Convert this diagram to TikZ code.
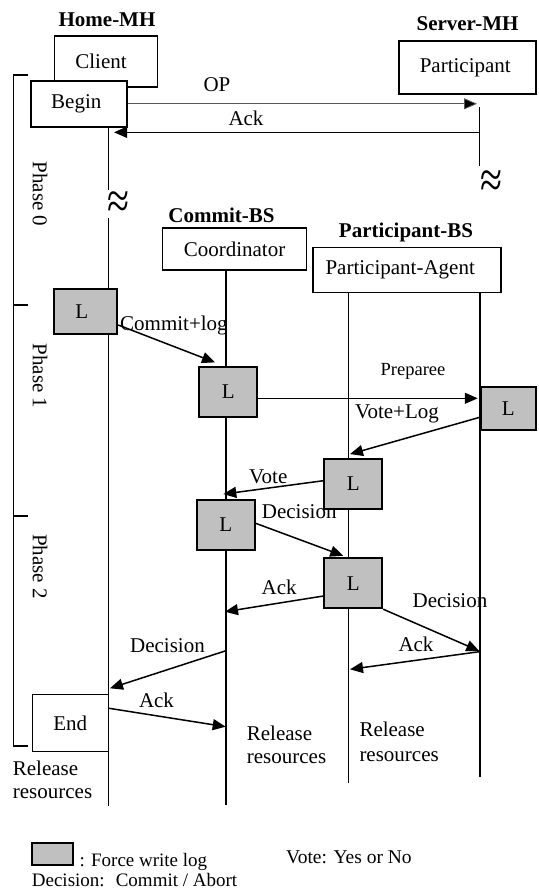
\documentclass[tikz,border=0pt]{standalone}
\usepackage{fontspec}
\setmainfont{Liberation Serif}
\usetikzlibrary{arrows.meta,backgrounds}
\definecolor{logfill}{RGB}{192,192,192}
\begin{document}
\begin{tikzpicture}[x=1pt,y=-1pt,
  every node/.style={font=\fontsize{21}{23}\selectfont, inner sep=0pt},
  title/.style={font=\fontsize{21}{23}\selectfont\bfseries, anchor=base},
  actor/.style={draw, line width=1.6pt, fill=white},
  logbox/.style={draw, line width=1.8pt, fill=logfill, minimum width=58pt, minimum height=50pt},
  life/.style={line width=1.4pt},
  msg/.style={line width=1.5pt, -{Triangle[length=13pt,width=11pt]}},
  opmsg/.style={line width=0.8pt, draw=black!65, -{Triangle[length=13pt,width=11pt,fill=black]}},
  lbl/.style={anchor=base},
  lblw/.style={anchor=base west},
  keytext/.style={anchor=base west, font=\fontsize{19}{21}\selectfont},
  phase/.style={rotate=-90},
  gap/.style={font=\fontsize{40}{40}\selectfont},
  bracket/.style={line width=1.4pt}]
\useasboundingbox (0,0) rectangle (538,891);

% ---- column headings
\node[title] (homeT) at (107,27) {Home-MH};
\node[title] (srvT) at (467.5,30.5) {Server-MH};
\node[title] (cbsT) at (221.5,222) {Commit-BS};
\node[title] (pbsT) at (406,237.5) {Participant-BS};

% ---- process boxes (trailing space nudges the caption left of centre)
\node[actor, minimum width=103pt, minimum height=51pt] (client) at (106,61.3) {Client\hspace*{10pt}};
\node[actor, minimum width=96pt, minimum height=46pt] (begin) at (78.8,103.8) {Begin\hspace*{5pt}};
\node[actor, minimum width=137pt, minimum height=53pt] (part) at (467.3,67.3) {Participant\hspace*{4pt}};
\node[actor, minimum width=144pt, minimum height=42pt] (coord) at (234.5,249.2) {Coordinator};
\node[actor, minimum width=188pt, minimum height=45pt] (pagent) at (406.7,270) {Participant-Agent\hspace*{13pt}};
\node[actor, minimum width=76pt, minimum height=57pt] (end) at (70.3,723) {End};

% ---- forced log writes
\node[logbox, minimum width=63pt, minimum height=44.7pt] (L1) at (85.8,311.7) {L\hspace*{8pt}};
\node[logbox] (L2) at (228.3,391.7) {L};
\node[logbox] (L3) at (225.8,525) {L};
\node[logbox, minimum width=55.3pt, minimum height=43.3pt] (L4) at (508.3,408.3) {L};
\node[logbox] (L5) at (353.3,484) {L};
\node[logbox] (L6) at (353.3,583.3) {L};

% ---- lifeline ends and gaps
\coordinate (h2) at (108.3,190);
\coordinate (h3) at (108.3,218);
\coordinate (h4) at (108.3,806);
\coordinate (s1) at (479.3,107);
\coordinate (s2) at (479.3,166);
\coordinate (c1) at (226,805);
\coordinate (pl) at (348.3,783.3);
\coordinate (pr) at (480,777.3);
\node[gap] (gapH) at (118,205) {\scalebox{1}[1.3]{≈}};
\node[gap] (gapS) at (491,184) {\scalebox{1}[1.3]{≈}};

\begin{pgfonlayer}{background}
  \draw[life] (begin.south -| h2) -- (h2);
  \draw[life] (h3) -- (h4);
  \draw[life] (s1) -- (s2);
  \draw[life] (coord.south -| c1) -- (c1);
  \draw[life] (pagent.south -| pl) -- (pl);
  \draw[life] (pagent.south -| pr) -- (pr);
\end{pgfonlayer}

% ---- phase bracket
\coordinate (b0) at (13.3,75);
\coordinate (b1) at (13.3,305);
\coordinate (b2) at (13.3,516);
\coordinate (b3) at (13.3,746);
\draw[bracket] ([xshift=15pt]b0) -- (b0) -- (b3) -- ([xshift=15pt]b3);
\draw[bracket] (b1) -- ([xshift=15pt]b1);
\draw[bracket] (b2) -- ([xshift=15pt]b2);
\node[phase] (ph0) at (40,194) {Phase 0};
\node[phase] (ph1) at (40,376) {Phase 1};
\node[phase] (ph2) at (40,566.5) {Phase 2};

% ---- message endpoints on lifelines
\coordinate (opEnd) at (477,103.8);
\coordinate (ack1s) at (479.3,132.3);
\coordinate (ack1e) at (114,132.3);
\coordinate (ack2e) at (225,611.7);
\coordinate (dec2e) at (479.3,651);
\coordinate (ack3s) at (479.3,651.7);
\coordinate (ack3e) at (350,669.3);
\coordinate (dec3s) at (226,650.7);
\coordinate (dec3e) at (110,688.3);
\coordinate (ack4e) at (225.7,726.7);

% ---- messages
\draw[opmsg] (begin.east) -- (opEnd);
\draw[msg] (ack1s) -- (ack1e);
\draw[msg] ([yshift=-13.3pt]L1.east) -- ([xshift=-13.3pt,yshift=3.4pt]L2.north);
\draw[msg] ([yshift=-6.6pt]L2.east) -- ([xshift=-2pt,yshift=10pt]L4.west);
\draw[msg] ([yshift=-9pt]L4.west) -- ([xshift=-3.3pt,yshift=4pt]L5.north);
\draw[msg] ([yshift=3.3pt]L5.west) -- ([xshift=-2.5pt,yshift=5pt]L3.north);
\draw[msg] ([yshift=1.7pt]L3.east) -- ([xshift=-10pt,yshift=1.6pt]L6.north);
\draw[msg] ([yshift=-12.7pt]L6.west) -- (ack2e);
\draw[msg] (L6.south east) -- (dec2e);
\draw[msg] (ack3s) -- (ack3e);
\draw[msg] (dec3s) -- (dec3e);
\draw[msg] ([yshift=14.7pt]end.east) -- (ack4e);

% ---- message labels
\node[lbl] (opL) at (217,92) {OP};
\node[lbl] (ack1L) at (246,125) {Ack};
\node[lblw] (commitL) at (120,330) {Commit+log};
\node[lbl, font=\fontsize{18.5}{20}\selectfont] (prepL) at (413,375) {Preparee};
\node[lbl] (voteLogL) at (397,418) {Vote+Log};
\node[lbl] (voteL) at (268.3,483.3) {Vote};
\node[lbl] (dec1L) at (299.2,518.3) {Decision};
\node[lbl] (ack2L) at (279.2,594) {Ack};
\node[lbl] (dec2L) at (450,607.3) {Decision};
\node[lbl] (ack3L) at (416,651.7) {Ack};
\node[lbl] (dec3L) at (167.5,652.7) {Decision};
\node[lbl] (ack4L) at (156.5,707.3) {Ack};

% ---- release notes
\node[lblw] (relA1) at (12.7,775) {Release};
\node[lblw] (relA2) at (12.7,798.3) {resources};
\node[lblw] (relB1) at (246.7,740) {Release};
\node[lblw] (relB2) at (246.7,763.3) {resources};
\node[lblw] (relC1) at (359.3,736.7) {Release};
\node[lblw] (relC2) at (359.3,761.7) {resources};

% ---- key
\node[logbox, minimum width=41pt, minimum height=21.7pt] (key) at (52.2,854.2) {};
\node[keytext] (keyL) at (79.3,866.7) {: Force write log};
\node[keytext] (decKey) at (31.7,886) {Decision:~ Commit / Abort};
\node[keytext, font=\fontsize{19.5}{21}\selectfont] (voteKey) at (286,863.3) {Vote: Yes or No};
\end{tikzpicture}
\end{document}
